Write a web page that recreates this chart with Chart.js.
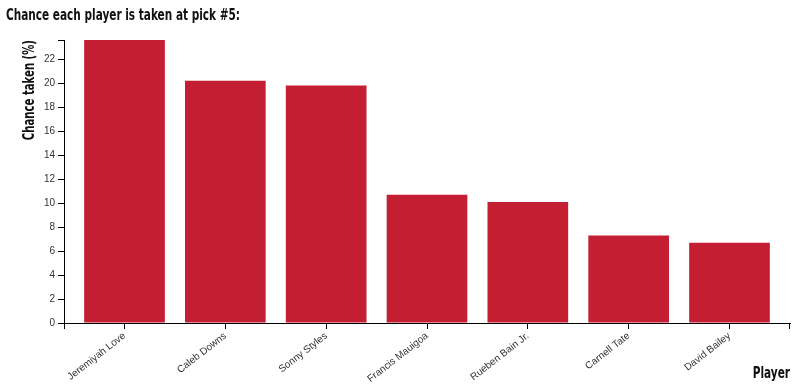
<!DOCTYPE html>
<html><head><meta charset="utf-8">
<script src="https://cdn.jsdelivr.net/npm/chart.js@4/dist/chart.umd.min.js"></script>
<style>html,body{margin:0;padding:0;background:#fff}</style>
</head><body>
<canvas id="c" width="800" height="389"></canvas>
<script>
const players = ['Jeremiyah Love', 'Caleb Downs', 'Sonny Styles', 'Francis Mauigoa', 'Rueben Bain Jr.', 'Carnell Tate', 'David Bailey'];
const chanceTaken = [23.6, 20.2, 19.8, 10.7, 10.1, 7.3, 6.7];
const yTickValues = [0, 2, 4, 6, 8, 10, 12, 14, 16, 18, 20, 22];
const chartTitle = 'Chance each player is taken at pick #5:';
const yTitle = 'Chance taken (%)';
const xTitle = 'Player';

const condensed = '"Liberation Sans Narrow", "DejaVu Sans Condensed", "Liberation Sans", sans-serif';
const tickFont = '"Liberation Sans", Arial, sans-serif';

// Outer (domain-end) tick marks and condensed titles
const decorations = {
  id: 'decorations',
  afterDraw(chart) {
    const ctx = chart.ctx, a = chart.chartArea;
    ctx.save();
    ctx.strokeStyle = '#000';
    ctx.lineWidth = 1;
    ctx.beginPath();
    ctx.moveTo(Math.round(a.left) + 0.5, a.bottom); ctx.lineTo(Math.round(a.left) + 0.5, a.bottom + 6);
    ctx.moveTo(Math.round(a.right) - 0.5, a.bottom); ctx.lineTo(Math.round(a.right) - 0.5, a.bottom + 6);
    ctx.moveTo(a.left - 6, Math.round(a.top) + 0.5); ctx.lineTo(a.left, Math.round(a.top) + 0.5);
    ctx.stroke();

    ctx.fillStyle = '#111';
    ctx.textBaseline = 'alphabetic';
    // main title
    ctx.save();
    ctx.font = 'bold 15px ' + condensed;
    ctx.textAlign = 'left';
    ctx.translate(6, 20);
    ctx.scale(0.78, 1);
    ctx.fillText(chartTitle, 0, 0);
    ctx.restore();
    // y title
    ctx.save();
    ctx.font = 'bold 15px ' + condensed;
    ctx.textAlign = 'right';
    ctx.translate(34, a.top);
    ctx.rotate(-Math.PI / 2);
    ctx.scale(0.75, 1);
    ctx.fillText(yTitle, 0, 0);
    ctx.restore();
    // x title
    ctx.save();
    ctx.font = 'bold 15px ' + condensed;
    ctx.textAlign = 'right';
    ctx.translate(a.right, 378);
    ctx.scale(0.78, 1);
    ctx.fillText(xTitle, 0, 0);
    ctx.restore();
    ctx.restore();
  }
};

new Chart(document.getElementById('c'), {
  type: 'bar',
  data: {
    datasets: [{
      data: chanceTaken.map((v, i) => ({ x: i, y: v })),
      backgroundColor: '#C41E33',
      borderWidth: 0,
      categoryPercentage: 0.8,
      barPercentage: 1
    }]
  },
  options: {
    responsive: false,
    animation: false,
    layout: { padding: { left: 0, right: 10, top: 40, bottom: 0 } },
    plugins: {
      legend: { display: false },
      tooltip: { enabled: false },
      title: { display: false }
    },
    scales: {
      x: {
        type: 'linear', min: -0.6, max: 6.6, offset: false,
        afterBuildTicks: s => { s.ticks = players.map((p, i) => ({ value: i })); },
        afterFit: s => { s.height = 66; },
        border: { display: true, color: '#000', width: 1 },
        grid: { display: true, offset: false, drawOnChartArea: false, drawTicks: true, tickLength: 6, color: '#000' },
        ticks: {
          autoSkip: false, maxRotation: 38, minRotation: 38, padding: 1,
          color: '#333', font: { family: tickFont, size: 10 },
          callback: v => players[v] ?? ''
        },
        title: { display: false }
      },
      y: {
        min: 0, max: 23.6,
        afterBuildTicks: s => { s.ticks = yTickValues.map(v => ({ value: v })); },
        afterFit: s => { s.width = 64; },
        border: { display: true, color: '#000', width: 1 },
        grid: { display: true, drawOnChartArea: false, drawTicks: true, tickLength: 6, color: '#000' },
        ticks: { color: '#333', font: { family: tickFont, size: 10 }, padding: 3 },
        title: { display: false }
      }
    }
  },
  plugins: [decorations]
});
</script>
</body></html>
